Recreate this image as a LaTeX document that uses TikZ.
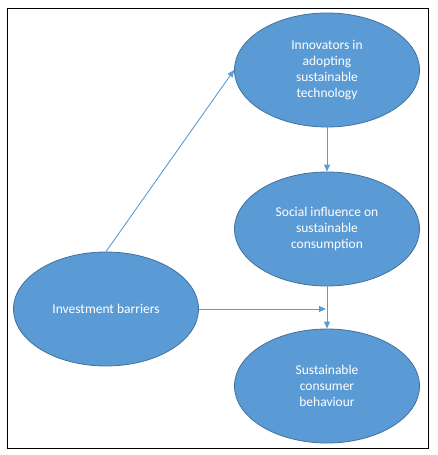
\documentclass[tikz,border=0pt]{standalone}
\usepackage{fontspec}
\setmainfont{Carlito}
\usetikzlibrary{shapes.geometric,arrows.meta}
\definecolor{fillblue}{HTML}{5B9BD5}
\definecolor{edgeblue}{HTML}{41719C}
\tikzset{
  bubble/.style={ellipse, draw=edgeblue, fill=fillblue, line width=0.8pt,
    minimum width=185pt, minimum height=114pt, inner sep=0pt,
    text=white, align=center, font=\fontsize{13.5}{16}\selectfont},
  link/.style={draw=fillblue, line width=0.9pt, -{Triangle[length=7pt,width=6pt]}}
}
\begin{document}
\begin{tikzpicture}[x=1pt,y=-1pt]
      \useasboundingbox (0,0) rectangle (437,455);
      \draw[black, line width=0.8pt] (7,8) rectangle (428,448);
      \path
        (106,309) node[bubble] (0){Investment barriers}
        (327,70) node[bubble] (1){Innovators in\\adopting\\sustainable\\technology}
        (327,229) node[bubble] (2){Social influence on\\sustainable\\consumption}
        (327,386) node[bubble] (3){Sustainable\\consumer\\behaviour};
      \coordinate (4) at (0.east -| 2.south);
      \begin{scope}[link]
        \draw (0.north) to (1.west);
        \draw (1) to (2);
        \draw (2) to (3);
        \draw (0) to ([xshift=-1pt]4);
      \end{scope}
    \end{tikzpicture}
\end{document}
